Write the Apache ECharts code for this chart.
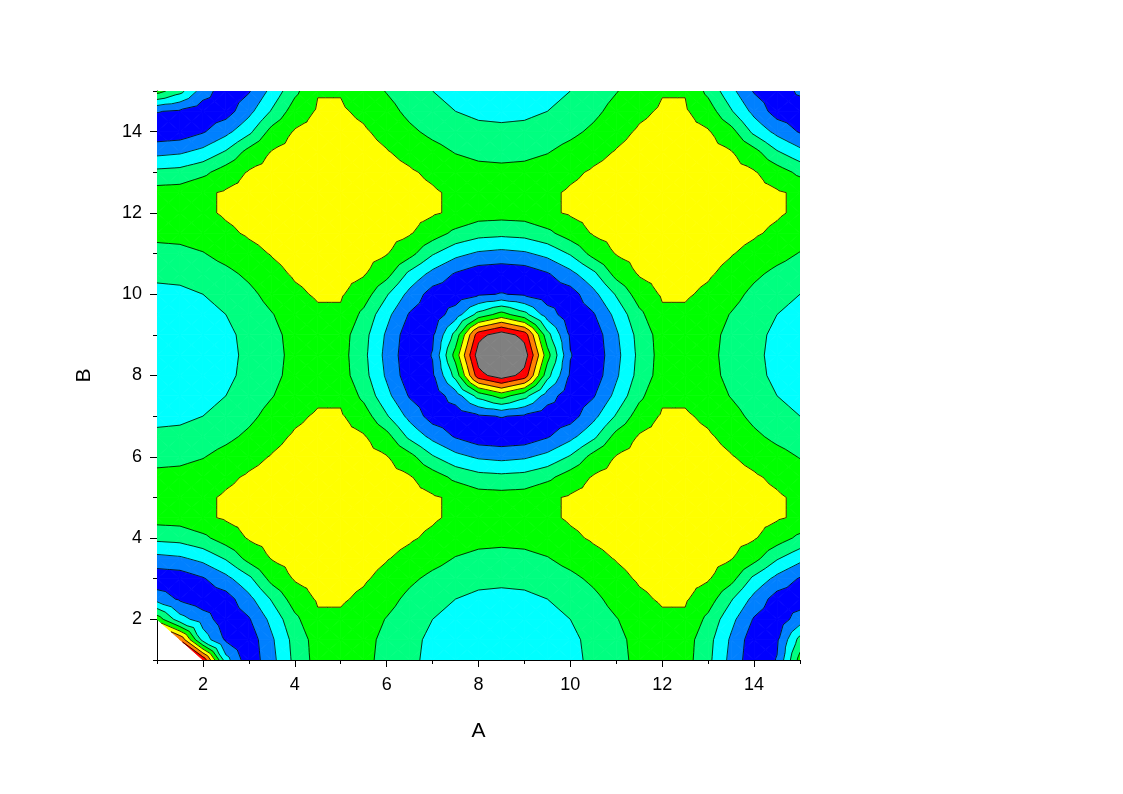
<!DOCTYPE html>
<html>
<head>
<meta charset="utf-8">
<script src="https://cdn.jsdelivr.net/npm/echarts@6/dist/echarts.min.js"></script>
<style>
html,body{margin:0;padding:0;background:#ffffff;}
#chart{width:1123px;height:794px;}
</style>
</head>
<body>
<div id="chart"></div>
<script>
// Grid coordinates (A along x, B along y)
const aValues = [1,1.5,2,2.5,3,3.5,4,4.5,5,5.5,6,6.5,7,7.5,8,8.5,9,9.5,10,10.5,11,11.5,12,12.5,13,13.5,14,14.5,15];
const bValues = [1,1.5,2,2.5,3,3.5,4,4.5,5,5.5,6,6.5,7,7.5,8,8.5,9,9.5,10,10.5,11,11.5,12,12.5,13,13.5,14,14.5,15];

// Z values, one row per B value (A = 1 ... 15)
const zB01_0 = [null,null,7.8,2.4,0.3,1.7,3.25,4.4,4.45,4.25,3.7,3.2,2.75,2.5,2.35,2.3,2.35,2.5,2.75,3.2,3.7,4.25,4.45,4.4,3.25,1.7,0.3,1.05,4.4];
const zB01_5 = [null,6.9,2.6,0.85,0.4,1.85,3.35,4.45,4.45,4.3,3.75,3.25,2.8,2.55,2.4,2.35,2.4,2.55,2.8,3.25,3.75,4.3,4.45,4.45,3.35,1.85,0.4,0.85,3.35];
const zB02_0 = [4.6,2.4,1.5,0.4,0.9,2.3,3.75,4.85,4.85,4.5,3.95,3.45,3.0,2.7,2.55,2.5,2.55,2.7,3.0,3.45,3.95,4.5,4.85,4.85,3.75,2.3,0.9,0.4,1.5];
const zB02_5 = [1.6,0.85,0.4,0.55,1.7,3.1,4.5,5.1,5.1,4.84,4.35,3.75,3.3,3.0,2.8,2.75,2.8,3.0,3.3,3.75,4.35,4.84,5.1,5.1,4.5,3.1,1.7,0.55,0.4];
const zB03_0 = [0.3,0.4,0.9,1.7,2.75,4.35,5.08,5.26,5.26,5.1,4.75,4.2,3.75,3.45,3.25,3.2,3.25,3.45,3.75,4.2,4.75,5.1,5.26,5.26,5.08,4.35,2.75,1.7,0.9];
const zB03_5 = [1.7,1.85,2.3,3.1,4.35,5.05,5.3,5.44,5.44,5.3,5.05,4.75,4.35,3.95,3.75,3.7,3.75,3.95,4.35,4.75,5.05,5.3,5.44,5.44,5.3,5.05,4.35,3.1,2.3];
const zB04_0 = [3.25,3.35,3.75,4.5,5.08,5.3,5.46,5.56,5.56,5.46,5.3,5.1,4.84,4.5,4.3,4.25,4.3,4.5,4.84,5.1,5.3,5.46,5.56,5.56,5.46,5.3,5.08,4.5,3.75];
const zB04_5 = [4.4,4.45,4.85,5.1,5.26,5.44,5.56,5.63,5.63,5.56,5.44,5.26,5.1,4.85,4.45,4.45,4.45,4.85,5.1,5.26,5.44,5.56,5.63,5.63,5.56,5.44,5.26,5.1,4.85];
const zB05_0 = [4.45,4.45,4.85,5.1,5.26,5.44,5.56,5.63,5.63,5.56,5.44,5.26,5.1,4.85,4.45,4.4,4.45,4.85,5.1,5.26,5.44,5.56,5.63,5.63,5.56,5.44,5.26,5.1,4.85];
const zB05_5 = [4.25,4.3,4.5,4.84,5.1,5.3,5.46,5.56,5.56,5.46,5.3,5.08,4.5,3.75,3.35,3.25,3.35,3.75,4.5,5.08,5.3,5.46,5.56,5.56,5.46,5.3,5.1,4.84,4.5];
const zB06_0 = [3.7,3.75,3.95,4.35,4.75,5.05,5.3,5.44,5.44,5.3,5.05,4.35,3.1,2.3,1.85,1.7,1.85,2.3,3.1,4.35,5.05,5.3,5.44,5.44,5.3,5.05,4.75,4.35,3.95];
const zB06_5 = [3.2,3.25,3.45,3.75,4.2,4.75,5.1,5.26,5.26,5.08,4.35,2.75,1.7,0.9,0.4,0.3,0.4,0.9,1.7,2.75,4.35,5.08,5.26,5.26,5.1,4.75,4.2,3.75,3.45];
const zB07_0 = [2.75,2.8,3.0,3.3,3.75,4.35,4.84,5.1,5.1,4.5,3.1,1.7,0.55,0.4,0.85,1.05,0.85,0.4,0.55,1.7,3.1,4.5,5.1,5.1,4.84,4.35,3.75,3.3,3.0];
const zB07_5 = [2.5,2.55,2.7,3.0,3.45,3.95,4.5,4.85,4.85,3.75,2.3,0.9,0.4,1.5,3.35,4.4,3.35,1.5,0.4,0.9,2.3,3.75,4.85,4.85,4.5,3.95,3.45,3.0,2.7];
const zB08_0 = [2.35,2.4,2.55,2.8,3.25,3.75,4.3,4.45,4.45,3.35,1.85,0.4,0.85,3.35,7.6,8.6,7.6,3.35,0.85,0.4,1.85,3.35,4.45,4.45,4.3,3.75,3.25,2.8,2.55];
const zB08_5 = [2.3,2.35,2.5,2.75,3.2,3.7,4.25,4.45,4.4,3.25,1.7,0.3,1.05,4.4,8.6,10,8.6,4.4,1.05,0.3,1.7,3.25,4.4,4.45,4.25,3.7,3.2,2.75,2.5];
const zB09_0 = [2.35,2.4,2.55,2.8,3.25,3.75,4.3,4.45,4.45,3.35,1.85,0.4,0.85,3.35,7.6,8.6,7.6,3.35,0.85,0.4,1.85,3.35,4.45,4.45,4.3,3.75,3.25,2.8,2.55];
const zB09_5 = [2.5,2.55,2.7,3.0,3.45,3.95,4.5,4.85,4.85,3.75,2.3,0.9,0.4,1.5,3.35,4.4,3.35,1.5,0.4,0.9,2.3,3.75,4.85,4.85,4.5,3.95,3.45,3.0,2.7];
const zB10_0 = [2.75,2.8,3.0,3.3,3.75,4.35,4.84,5.1,5.1,4.5,3.1,1.7,0.55,0.4,0.85,1.05,0.85,0.4,0.55,1.7,3.1,4.5,5.1,5.1,4.84,4.35,3.75,3.3,3.0];
const zB10_5 = [3.2,3.25,3.45,3.75,4.2,4.75,5.1,5.26,5.26,5.08,4.35,2.75,1.7,0.9,0.4,0.3,0.4,0.9,1.7,2.75,4.35,5.08,5.26,5.26,5.1,4.75,4.2,3.75,3.45];
const zB11_0 = [3.7,3.75,3.95,4.35,4.75,5.05,5.3,5.44,5.44,5.3,5.05,4.35,3.1,2.3,1.85,1.7,1.85,2.3,3.1,4.35,5.05,5.3,5.44,5.44,5.3,5.05,4.75,4.35,3.95];
const zB11_5 = [4.25,4.3,4.5,4.84,5.1,5.3,5.46,5.56,5.56,5.46,5.3,5.08,4.5,3.75,3.35,3.25,3.35,3.75,4.5,5.08,5.3,5.46,5.56,5.56,5.46,5.3,5.1,4.84,4.5];
const zB12_0 = [4.45,4.45,4.85,5.1,5.26,5.44,5.56,5.63,5.63,5.56,5.44,5.26,5.1,4.85,4.45,4.4,4.45,4.85,5.1,5.26,5.44,5.56,5.63,5.63,5.56,5.44,5.26,5.1,4.85];
const zB12_5 = [4.4,4.45,4.85,5.1,5.26,5.44,5.56,5.63,5.63,5.56,5.44,5.26,5.1,4.85,4.45,4.45,4.45,4.85,5.1,5.26,5.44,5.56,5.63,5.63,5.56,5.44,5.26,5.1,4.85];
const zB13_0 = [3.25,3.35,3.75,4.5,5.08,5.3,5.46,5.56,5.56,5.46,5.3,5.1,4.84,4.5,4.3,4.25,4.3,4.5,4.84,5.1,5.3,5.46,5.56,5.56,5.46,5.3,5.08,4.5,3.75];
const zB13_5 = [1.7,1.85,2.3,3.1,4.35,5.05,5.3,5.44,5.44,5.3,5.05,4.75,4.35,3.95,3.75,3.7,3.75,3.95,4.35,4.75,5.05,5.3,5.44,5.44,5.3,5.05,4.35,3.1,2.3];
const zB14_0 = [0.3,0.4,0.9,1.7,2.75,4.35,5.08,5.26,5.26,5.1,4.75,4.2,3.75,3.45,3.25,3.2,3.25,3.45,3.75,4.2,4.75,5.1,5.26,5.26,5.08,4.35,2.75,1.7,0.9];
const zB14_5 = [1.05,0.85,0.4,0.55,1.7,3.1,4.5,5.1,5.1,4.84,4.35,3.75,3.3,3.0,2.8,2.75,2.8,3.0,3.3,3.75,4.35,4.84,5.1,5.1,4.5,3.1,1.7,0.55,0.4];
const zB15_0 = [4.4,3.35,1.5,0.4,0.9,2.3,3.75,4.95,4.95,4.5,3.95,3.45,3.0,2.7,2.55,2.5,2.55,2.7,3.0,3.45,3.95,4.5,4.95,4.95,3.75,2.3,0.9,0.4,1.2];

const zRows = [zB01_0,zB01_5,zB02_0,zB02_5,zB03_0,zB03_5,zB04_0,zB04_5,zB05_0,zB05_5,
  zB06_0,zB06_5,zB07_0,zB07_5,zB08_0,zB08_5,zB09_0,zB09_5,zB10_0,zB10_5,
  zB11_0,zB11_5,zB12_0,zB12_5,zB13_0,zB13_5,zB14_0,zB14_5,zB15_0];

// Contour levels and band colours (low to high)
const contourLevels = [1,2,3,4,5,6,7,8];
const bandColors = ['#0000ff','#0080ff','#00ffff','#00ff80','#00ff00','#ffff00','#ff8000','#ff0000','#808080'];

// Tick labels
const xMajorTicks = [2,4,6,8,10,12,14];
const xMinorTicks = [1,3,5,7,9,11,13,15];
const yMajorTicks = [2,4,6,8,10,12,14];
const yMinorTicks = [1,3,5,7,9,11,13,15];

// cells built from the grid arrays
const cells = [];
for (let i = 0; i < aValues.length - 1; i++) {
  for (let j = 0; j < bValues.length - 1; j++) {
    cells.push([aValues[i], bValues[j], i, j]);
  }
}

function isNum(v) { return v !== null && v !== undefined; }

function cellTriangles(i, j) {
  const p00 = [aValues[i], bValues[j], zRows[j][i]];
  const p10 = [aValues[i+1], bValues[j], zRows[j][i+1]];
  const p11 = [aValues[i+1], bValues[j+1], zRows[j+1][i+1]];
  const p01 = [aValues[i], bValues[j+1], zRows[j+1][i]];
  const corners = [p00, p10, p11, p01];
  const valid = corners.filter(p => isNum(p[2]));
  if (valid.length === 4) {
    const c = [(p00[0] + p10[0]) / 2, (p00[1] + p01[1]) / 2, (p00[2] + p10[2] + p11[2] + p01[2]) / 4];
    return [[p00, p10, c], [p10, p11, c], [p11, p01, c], [p01, p00, c]];
  }
  if (valid.length === 3) return [valid];
  return [];
}

function clipPoly(poly, level, keepAbove) {
  const out = [];
  const n = poly.length;
  for (let k = 0; k < n; k++) {
    const cur = poly[k], nxt = poly[(k + 1) % n];
    const cIn = keepAbove ? cur[2] >= level : cur[2] <= level;
    const nIn = keepAbove ? nxt[2] >= level : nxt[2] <= level;
    if (cIn) out.push(cur);
    if (cIn !== nIn) {
      const t = (level - cur[2]) / (nxt[2] - cur[2]);
      out.push([cur[0] + t * (nxt[0] - cur[0]), cur[1] + t * (nxt[1] - cur[1]), level]);
    }
  }
  return out;
}

function renderFill(params, api) {
  const i = api.value(2), j = api.value(3);
  const children = [];
  cellTriangles(i, j).forEach(tri => {
    for (let b = 0; b < bandColors.length; b++) {
      let poly = tri;
      if (b > 0) poly = clipPoly(poly, contourLevels[b - 1], true);
      if (poly.length >= 3 && b < contourLevels.length) poly = clipPoly(poly, contourLevels[b], false);
      if (poly.length >= 3) {
        const pts = poly.map(p => api.coord([p[0], p[1]]));
        children.push({
          type: 'polygon',
          shape: { points: pts },
          style: { fill: bandColors[b], stroke: bandColors[b], lineWidth: 0.8 },
          silent: true
        });
      }
    }
  });
  return { type: 'group', children: children };
}

function renderLines(params, api) {
  const i = api.value(2), j = api.value(3);
  const children = [];
  cellTriangles(i, j).forEach(tri => {
    contourLevels.forEach(L => {
      const pts = [];
      for (let k = 0; k < 3; k++) {
        const a = tri[k], c = tri[(k + 1) % 3];
        const sa = a[2] >= L, sc = c[2] >= L;
        if (sa !== sc) {
          const t = (L - a[2]) / (c[2] - a[2]);
          pts.push(api.coord([a[0] + t * (c[0] - a[0]), a[1] + t * (c[1] - a[1])]));
        }
      }
      if (pts.length === 2) {
        children.push({
          type: 'line',
          shape: { x1: pts[0][0], y1: pts[0][1], x2: pts[1][0], y2: pts[1][1] },
          style: { stroke: '#000000', lineWidth: 0.8 },
          silent: true
        });
      }
    });
  });
  return { type: 'group', children: children };
}

const fontFam = '"Liberation Sans", Arial, sans-serif';

const chart = echarts.init(document.getElementById('chart'), null, { renderer: 'canvas' });
chart.setOption({
  animation: false,
  backgroundColor: '#ffffff',
  grid: { left: 157, right: 323, top: 91, bottom: 134, containLabel: false },
  xAxis: [
    {
      type: 'value', min: 1, max: 15, position: 'bottom',
      name: 'A', nameLocation: 'middle', nameGap: 61,
      nameTextStyle: { fontSize: 21, color: '#000', fontFamily: fontFam },
      axisLine: { show: true, onZero: false, lineStyle: { color: '#000', width: 1 } },
      axisTick: { show: true, inside: false, length: 7, customValues: xMajorTicks, lineStyle: { color: '#000', width: 1 } },
      axisLabel: { show: true, customValues: xMajorTicks, margin: 16, fontSize: 18, color: '#000', fontFamily: fontFam },
      splitLine: { show: false }
    },
    {
      type: 'value', min: 1, max: 15, position: 'bottom',
      axisLine: { show: false, onZero: false },
      axisTick: { show: true, inside: false, length: 4, customValues: xMinorTicks, lineStyle: { color: '#000', width: 1 } },
      axisLabel: { show: false },
      splitLine: { show: false }
    }
  ],
  yAxis: [
    {
      type: 'value', min: 1, max: 15, position: 'left',
      name: 'B', nameLocation: 'middle', nameGap: 62, nameRotate: 90,
      nameTextStyle: { fontSize: 21, color: '#000', fontFamily: fontFam },
      axisLine: { show: true, onZero: false, lineStyle: { color: '#000', width: 1 } },
      axisTick: { show: true, inside: false, length: 7, customValues: yMajorTicks, lineStyle: { color: '#000', width: 1 } },
      axisLabel: { show: true, customValues: yMajorTicks, margin: 15, fontSize: 18, color: '#000', fontFamily: fontFam },
      splitLine: { show: false }
    },
    {
      type: 'value', min: 1, max: 15, position: 'left',
      axisLine: { show: false, onZero: false },
      axisTick: { show: true, inside: false, length: 4, customValues: yMinorTicks, lineStyle: { color: '#000', width: 1 } },
      axisLabel: { show: false },
      splitLine: { show: false }
    }
  ],
  series: [
    {
      type: 'custom', name: 'fill', coordinateSystem: 'cartesian2d',
      xAxisIndex: 0, yAxisIndex: 0,
      renderItem: renderFill, data: cells, encode: { x: 0, y: 1 },
      silent: true, z: 1, clip: true
    },
    {
      type: 'custom', name: 'lines', coordinateSystem: 'cartesian2d',
      xAxisIndex: 0, yAxisIndex: 0,
      renderItem: renderLines, data: cells, encode: { x: 0, y: 1 },
      silent: true, z: 2, clip: true
    }
  ]
});
</script>
</body>
</html>
